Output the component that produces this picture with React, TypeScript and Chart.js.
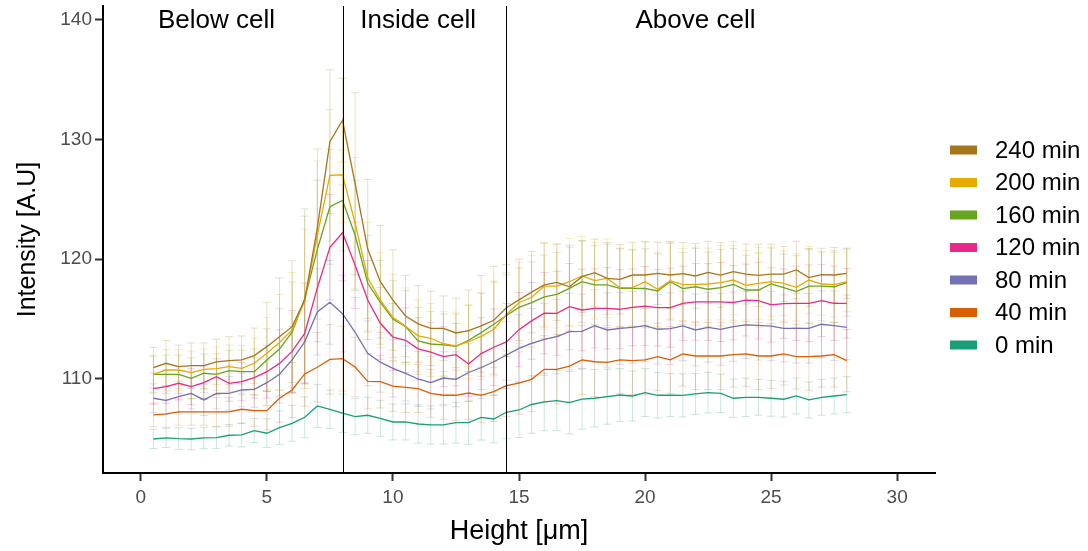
import React, { useEffect, useRef } from "react";
import { Chart, registerables } from "chart.js";

Chart.register(...registerables);

const FONT = "'Liberation Sans', Arial, Helvetica, sans-serif";

// ---- data ----
const heights = [
  0.5, 1.0, 1.5, 2.0, 2.5, 3.0, 3.5, 4.0, 4.5, 5.0, 5.5, 6.0, 6.5, 7.0,
  7.5, 8.0, 8.5, 9.0, 9.5, 10.0, 10.5, 11.0, 11.5, 12.0, 12.5, 13.0, 13.5, 14.0,
  14.5, 15.0, 15.5, 16.0, 16.5, 17.0, 17.5, 18.0, 18.5, 19.0, 19.5, 20.0, 20.5, 21.0,
  21.5, 22.0, 22.5, 23.0, 23.5, 24.0, 24.5, 25.0, 25.5, 26.0, 26.5, 27.0, 27.5, 28.0,
];

const seriesNames = ["240 min", "200 min", "160 min", "120 min", "80 min", "40 min", "0 min"];
const seriesColors = ["#A6761D", "#E6AB02", "#66A61E", "#E7298A", "#7570B3", "#D95F02", "#1B9E77"];

const int240 = [
  110.94, 111.31, 111.03, 111.11, 111.11, 111.42, 111.53, 111.59, 111.95, 112.7, 113.53,
  114.37, 116.6, 122.6, 129.81, 131.6, 126.3,
  120.85, 118.12, 116.59, 115.26, 114.6, 114.23, 114.23, 113.84, 114.03, 114.43, 114.9, 115.95, 116.6, 117.25, 117.85,
  118.07, 117.7, 118.54, 118.87, 118.4, 118.32, 118.68, 118.68, 118.82, 118.68, 118.8, 118.6, 118.9, 118.68, 118.96,
  118.76, 118.65, 118.76, 118.76, 119.1, 118.46, 118.71, 118.68, 118.82,
];
const int200 = [
  110.39, 110.75, 110.75, 110.53, 110.81, 110.86, 111.03, 110.89, 111.31, 112.14, 113.05,
  114.1, 116.5, 122.0, 127.0, 127.05, 123.0,
  118.45, 116.59, 115.15, 114.4, 113.6, 113.4, 112.94, 112.77, 113.11, 113.56, 114.15, 115.38, 116.37, 116.82, 117.76,
  117.76, 118.12, 118.6, 118.21, 118.4, 117.62, 117.62, 118.12, 117.49, 118.21, 117.88, 117.9, 117.93, 118.04, 118.26,
  117.82, 117.99, 118.12, 117.99, 117.65, 118.26, 117.93, 117.87, 118.12,
];
const int160 = [
  110.39, 110.39, 110.39, 110.06, 110.48, 110.39, 110.69, 110.61, 110.61, 111.59, 112.5,
  113.9, 116.7, 120.8, 124.38, 124.9, 122.0,
  117.99, 116.4, 115.0, 114.37, 113.18, 112.92, 112.84, 112.72, 113.23, 113.87, 114.57, 115.3, 115.98, 116.37, 116.85,
  117.07, 117.57, 118.12, 117.85, 117.85, 117.57, 117.57, 117.57, 117.35, 118.12, 117.55, 117.7, 117.49, 117.62, 117.9,
  117.43, 117.43, 117.93, 117.62, 117.29, 117.76, 117.76, 117.7, 118.04,
];
const int120 = [
  109.19, 109.36, 109.64, 109.36, 109.69, 110.19, 109.64, 109.78, 110.11, 110.61, 111.3,
  112.3, 113.8, 117.6, 121.0, 122.2, 119.5,
  116.59, 114.65, 113.5, 113.23, 112.52, 112.24, 111.86, 112.03, 111.25, 112.12, 112.65, 113.1, 114.12, 114.85, 115.5,
  115.48, 116.04, 115.76, 115.9, 115.9, 115.82, 115.98, 116.09, 115.95, 115.95, 116.32, 116.43, 116.43, 116.43, 116.37,
  116.59, 116.54, 116.18, 116.29, 116.32, 116.32, 116.54, 116.32, 116.32,
];
const int80 = [
  108.39, 108.22, 108.52, 108.8, 108.25, 108.8, 108.8, 109.08, 109.14, 109.69, 110.4,
  111.6, 113.1, 115.6, 116.4, 115.45, 113.9,
  112.14, 111.4, 110.89, 110.47, 110.0, 109.69, 110.08, 109.97, 110.54, 110.96, 111.44, 112.0, 112.56, 112.98, 113.31,
  113.53, 113.95, 113.98, 114.45, 114.09, 114.23, 114.31, 114.45, 114.15, 114.2, 114.43, 114.09, 114.31, 114.15, 114.37,
  114.51, 114.48, 114.42, 114.23, 114.23, 114.23, 114.57, 114.45, 114.31,
];
const int40 = [
  107.0, 107.08, 107.25, 107.25, 107.25, 107.25, 107.25, 107.47, 107.35, 107.35, 108.39,
  109.08, 110.42, 110.98, 111.64, 111.7, 111.0,
  109.8, 109.78, 109.4, 109.3, 109.2, 108.8, 108.64, 108.64, 108.83, 108.64, 108.94, 109.45, 109.66, 109.97, 110.81,
  110.81, 111.08, 111.59, 111.44, 111.39, 111.59, 111.53, 111.59, 111.86, 111.59, 112.1, 111.92, 111.92, 111.92, 112.03,
  112.09, 111.92, 111.92, 112.09, 111.86, 111.86, 111.92, 112.03, 111.53,
];
const int0 = [
  104.99, 105.08, 105.02, 104.99, 105.08, 105.1, 105.3, 105.33, 105.69, 105.47, 105.94,
  106.3, 106.8, 107.75, 107.47, 107.14, 106.85,
  106.97, 106.72, 106.41, 106.41, 106.24, 106.16, 106.16, 106.35, 106.35, 106.8, 106.66, 107.22, 107.41, 107.87, 108.08,
  108.19, 108.02, 108.31, 108.39, 108.52, 108.66, 108.58, 108.86, 108.64, 108.66, 108.63, 108.75, 108.86, 108.8, 108.39,
  108.47, 108.47, 108.39, 108.31, 108.58, 108.25, 108.47, 108.58, 108.69,
];

const err240 = [
  1.7, 1.9, 1.8, 1.9, 1.9, 1.9, 2.0, 2.0, 2.3, 3.7, 4.9,
  5.5, 7.0, 6.6, 6.0, 3.5, 7.6,
  5.8, 4.7, 4.2, 3.4, 3.2, 3.1, 2.7, 2.9, 3.4, 4.2, 4.5, 3.6, 3.4, 3.4, 3.5,
  3.2, 3.3, 3.0, 2.8, 3.0, 2.9, 2.7, 2.8, 2.6, 2.8, 2.6, 2.7, 2.6, 2.7, 2.5, 2.5, 2.6, 2.5, 2.3, 2.4, 2.4, 2.2, 2.3, 2.1,
];
const err200 = [
  1.6, 1.7, 1.7, 1.8, 1.7, 1.8, 1.8, 1.9, 2.1, 3.0, 4.0,
  4.8, 6.0, 6.2, 5.5, 4.0, 5.5,
  4.6, 4.0, 3.6, 3.2, 3.0, 2.9, 2.7, 2.8, 3.1, 3.6, 3.9, 3.5, 3.4, 3.5, 3.6,
  3.5, 3.6, 3.3, 3.2, 3.3, 3.3, 3.2, 3.3, 3.1, 3.2, 3.0, 3.1, 3.0, 3.1, 2.9, 2.9, 3.0, 2.9, 2.7, 2.8, 2.8, 2.6, 2.7, 2.5,
];
const err160 = [
  1.5, 1.6, 1.6, 1.7, 1.6, 1.7, 1.7, 1.8, 1.9, 2.6, 3.4,
  4.2, 7.5, 5.8, 4.8, 4.2, 4.6,
  4.0, 3.5, 3.2, 3.0, 2.8, 2.7, 2.6, 2.7, 2.9, 3.3, 3.6, 3.4, 3.3, 3.4, 3.5,
  3.5, 3.6, 3.4, 3.3, 3.4, 3.3, 3.2, 3.3, 3.1, 3.2, 3.0, 3.2, 3.1, 3.2, 3.0, 2.9, 3.1, 3.0, 2.8, 3.0, 3.1, 2.9, 3.0, 2.8,
];
const err120 = [
  1.3, 1.4, 1.4, 1.5, 1.4, 1.5, 1.5, 1.6, 1.7, 2.2, 2.8,
  3.4, 4.2, 4.5, 4.4, 4.0, 3.6,
  3.3, 3.0, 2.8, 2.7, 2.6, 2.5, 2.5, 2.6, 2.7, 3.0, 3.2, 3.2, 3.1, 3.2, 3.4,
  3.5, 3.6, 3.4, 3.3, 3.4, 3.3, 3.2, 3.3, 3.2, 3.3, 3.1, 3.2, 3.2, 3.3, 3.1, 3.0, 3.2, 3.1, 2.9, 3.1, 3.2, 3.0, 3.1, 2.9,
];
const err80 = [
  1.2, 1.2, 1.3, 1.3, 1.3, 1.3, 1.4, 1.4, 1.5, 1.9, 2.4,
  2.8, 3.4, 3.6, 3.5, 3.2, 2.9,
  2.7, 2.5, 2.4, 2.3, 2.3, 2.2, 2.2, 2.3, 2.4, 2.6, 2.8, 2.8, 2.8, 2.9, 3.0,
  3.1, 3.2, 3.1, 3.0, 3.1, 3.0, 3.0, 3.0, 2.9, 3.0, 2.9, 3.0, 2.9, 3.0, 2.9, 2.8, 2.9, 2.9, 2.8, 2.9, 2.9, 2.8, 2.9, 2.7,
];
const err40 = [
  1.0, 1.1, 1.1, 1.1, 1.1, 1.2, 1.2, 1.2, 1.3, 1.6, 2.0,
  2.3, 2.7, 2.9, 2.9, 2.7, 2.5,
  2.3, 2.2, 2.1, 2.1, 2.0, 2.0, 2.0, 2.1, 2.2, 2.3, 2.5, 2.6, 2.6, 2.7, 2.8,
  2.9, 3.0, 2.9, 2.9, 2.9, 2.8, 2.8, 2.9, 2.8, 2.8, 2.7, 2.8, 2.8, 2.8, 2.7, 2.7, 2.8, 2.7, 2.6, 2.7, 2.8, 2.6, 2.7, 2.6,
];
const err0 = [
  0.8, 0.8, 0.9, 0.9, 0.9, 0.9, 0.9, 1.0, 1.0, 1.2, 1.4,
  1.5, 1.7, 1.8, 1.6, 1.6, 1.5,
  1.5, 1.5, 1.5, 1.5, 1.6, 1.6, 1.6, 1.7, 1.8, 1.9, 2.0, 2.2, 2.3, 2.4, 2.4,
  2.5, 2.6, 2.5, 2.4, 2.3, 2.2, 2.1, 2.0, 1.9, 1.8, 1.8, 1.7, 1.7, 1.6, 1.6, 1.6, 1.5, 1.5, 1.5, 1.5, 1.5, 1.5, 1.5, 1.5,
];

const seriesValues = [int240, int200, int160, int120, int80, int40, int0];
const seriesErrors = [err240, err200, err160, err120, err80, err40, err0];

const regionLabels = ["Below cell", "Inside cell", "Above cell"];
const regionLabelX = [3, 11, 22];
const regionLabelY = 140;
const regionBoundaries = [8, 14.5];

const xTicks = [0, 5, 10, 15, 20, 25, 30];
const yTicks = [110, 120, 130, 140];

// ---- helpers ----
function rgba(hex: string, a: number) {
  const n = parseInt(hex.slice(1), 16);
  return `rgba(${(n >> 16) & 255},${(n >> 8) & 255},${n & 255},${a})`;
}

const errorBarPlugin = {
  id: "errorBars",
  beforeDatasetsDraw(chart: any) {
    const { ctx, scales } = chart;
    const x = scales.x;
    const y = scales.y;
    const capHalf = 0.16;
    ctx.save();
    ctx.lineWidth = 1;
    for (let k = seriesValues.length - 1; k >= 0; k--) {
      const vals = seriesValues[k];
      const errs = seriesErrors[k];
      ctx.strokeStyle = rgba(seriesColors[k], 0.24);
      ctx.beginPath();
      heights.forEach((h, i) => {
        const px = x.getPixelForValue(h);
        const pl = x.getPixelForValue(h - capHalf);
        const pr = x.getPixelForValue(h + capHalf);
        const top = y.getPixelForValue(vals[i] + errs[i]);
        const bot = y.getPixelForValue(vals[i] - errs[i]);
        ctx.moveTo(px, top);
        ctx.lineTo(px, bot);
        ctx.moveTo(pl, top);
        ctx.lineTo(pr, top);
        ctx.moveTo(pl, bot);
        ctx.lineTo(pr, bot);
      });
      ctx.stroke();
    }
    ctx.restore();
  },
};

const regionPlugin = {
  id: "regions",
  afterDatasetsDraw(chart: any) {
    const { ctx, scales, chartArea } = chart;
    const x = scales.x;
    const y = scales.y;
    ctx.save();
    ctx.strokeStyle = "#000000";
    ctx.lineWidth = 1;
    regionBoundaries.forEach((b) => {
      const px = Math.round(x.getPixelForValue(b)) + 0.5;
      ctx.beginPath();
      ctx.moveTo(px, chartArea.top);
      ctx.lineTo(px, chartArea.bottom);
      ctx.stroke();
    });
    ctx.fillStyle = "#000000";
    ctx.font = `26px ${FONT}`;
    ctx.textAlign = "center";
    ctx.textBaseline = "middle";
    regionLabels.forEach((t, i) => {
      ctx.fillText(t, x.getPixelForValue(regionLabelX[i]), y.getPixelForValue(regionLabelY) + 1);
    });
    ctx.restore();
  },
};

const legendPlugin = {
  id: "sideLegend",
  afterDraw(chart: any) {
    const { ctx } = chart;
    ctx.save();
    ctx.font = `24px ${FONT}`;
    ctx.textAlign = "left";
    ctx.textBaseline = "middle";
    seriesNames.forEach((name, i) => {
      const cy = 150 + i * 32.5;
      ctx.fillStyle = seriesColors[i];
      ctx.fillRect(950, cy - 4.5, 27, 9);
      ctx.fillStyle = "#000000";
      ctx.fillText(name, 995, cy + 1);
    });
    ctx.restore();
  },
};

export default function App() {
  const canvasRef = useRef<HTMLCanvasElement | null>(null);

  useEffect(() => {
    const canvas = canvasRef.current;
    if (!canvas) return;
    const datasets = seriesNames.map((name, k) => ({
      label: name,
      data: heights.map((h, i) => ({ x: h, y: seriesValues[k][i] })),
      borderColor: seriesColors[k],
      backgroundColor: seriesColors[k],
      borderWidth: 1.3,
      pointRadius: 0,
      tension: 0,
      fill: false,
    }));

    const chart = new Chart(canvas, {
      type: "line",
      data: { datasets },
      plugins: [errorBarPlugin, regionPlugin, legendPlugin],
      options: {
        responsive: false,
        animation: false,
        devicePixelRatio: 1,
        layout: { padding: { top: 6, right: 153, left: 0, bottom: 0 } },
        plugins: {
          legend: { display: false },
          tooltip: { enabled: false },
        },
        scales: {
          x: {
            type: "linear",
            min: -1.5,
            max: 31.5,
            afterBuildTicks: (s: any) => {
              s.ticks = xTicks.map((v) => ({ value: v }));
            },
            afterFit: (s: any) => {
              s.height = 78;
              s.paddingLeft = 0;
              s.paddingRight = 0;
            },
            grid: {
              drawOnChartArea: false,
              drawTicks: true,
              tickLength: 8,
              tickWidth: 2,
              tickColor: "#333333",
            },
            border: { display: true, color: "#000000", width: 2 },
            ticks: {
              color: "#4D4D4D",
              font: { family: FONT, size: 19 },
              padding: 5,
              maxRotation: 0,
              autoSkip: false,
            },
            title: {
              display: true,
              text: "Height [μm]",
              color: "#000000",
              font: { family: FONT, size: 27 },
              padding: { top: 0, bottom: 3 },
            },
          },
          y: {
            type: "linear",
            min: 102.15,
            max: 141.14,
            afterBuildTicks: (s: any) => {
              s.ticks = yTicks.map((v) => ({ value: v }));
            },
            afterFit: (s: any) => {
              s.width = 103;
              s.paddingTop = 0;
              s.paddingBottom = 0;
            },
            grid: {
              drawOnChartArea: false,
              drawTicks: true,
              tickLength: 8,
              tickWidth: 2,
              tickColor: "#333333",
            },
            border: { display: true, color: "#000000", width: 2 },
            ticks: {
              color: "#4D4D4D",
              font: { family: FONT, size: 19 },
              padding: 3,
              autoSkip: false,
            },
            title: {
              display: true,
              text: "Intensity [A.U]",
              color: "#000000",
              font: { family: FONT, size: 25 },
              padding: { top: 13, bottom: 0 },
            },
          },
        },
      } as any,
    });
    return () => chart.destroy();
  }, []);

  return (
    <div style={{ position: "fixed", left: 0, top: 0, width: 1088, height: 551, background: "#ffffff" }}>
      <canvas ref={canvasRef} width={1088} height={551} style={{ display: "block" }} />
    </div>
  );
}
